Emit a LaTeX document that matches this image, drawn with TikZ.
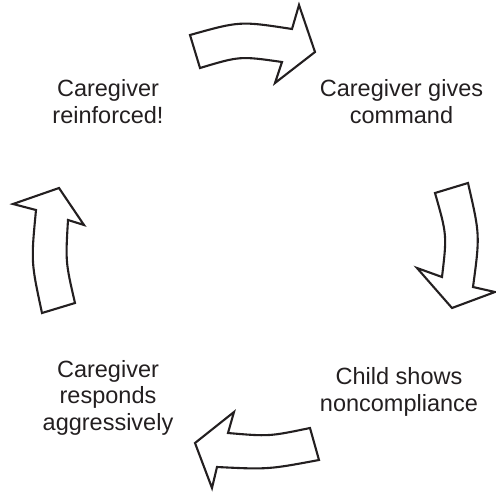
\documentclass[tikz,border=0pt]{standalone}
\usepackage{fontspec}
\setmainfont{Liberation Sans}
\definecolor{ink}{HTML}{231F20}
\begin{document}
\begin{tikzpicture}[x=1pt,y=-1pt,
  cyclearrow/.style={draw=ink,line width=2.1pt,line join=miter,fill=white},
  label/.style={align=center,inner sep=0pt,text=ink,anchor=base,font=\fontsize{23.5}{26.5}\selectfont}]
\useasboundingbox (0,0) rectangle (496,491);
% top arrow (pointing right)
\draw[cyclearrow] (190,35) .. controls (240,21) .. (292,29) -- (299,5) -- (315,52) -- (275,83) -- (282,62)
  .. controls (240,56) .. (200,68) -- cycle;
% right arrow (pointing down)
\draw[cyclearrow] (435,193) -- (468,183) .. controls (480,235) .. (473,287) -- (495,292) -- (452,308) -- (417,268) -- (442,277)
  .. controls (447,235) .. (435,193) -- cycle;
% bottom arrow (pointing left)
\draw[cyclearrow] (310,428) .. controls (269,436.5) .. (228,433) -- (234,412) -- (195,443) -- (212,488) -- (217,467)
  .. controls (268,469.5) .. (319,460) -- cycle;
% left arrow (pointing up)
\draw[cyclearrow] (42,313) -- (75,303) .. controls (65.5,262) .. (68,220) -- (84,225) -- (59,188) -- (13,204) -- (36,210)
  .. controls (31,262) .. (42,313) -- cycle;
% labels (base = baseline of last line)
\node[label] (gives) at (401.5,123) {Caregiver gives\\command};
\node[label] (child) at (399,411) {Child shows\\noncompliance};
\node[label] (resp) at (108,430) {Caregiver\\responds\\aggressively};
\node[label] (reinf) at (108,123) {Caregiver\\reinforced!};
\end{tikzpicture}
\end{document}
